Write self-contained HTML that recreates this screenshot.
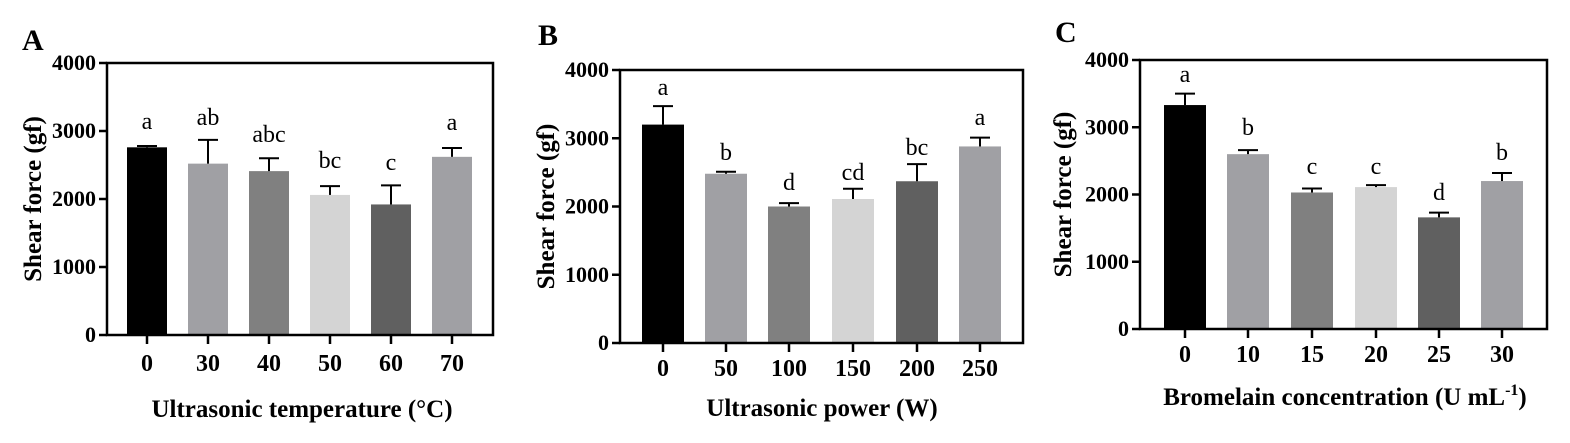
<!DOCTYPE html>
<html><head><meta charset="utf-8"><style>
html,body{margin:0;padding:0;background:#fff;}
svg{display:block;font-family:"Liberation Serif",serif;}
</style></head><body>
<svg id="s" width="1570" height="443" viewBox="0 0 1570 443" xmlns="http://www.w3.org/2000/svg"></svg>
<script>
const s=document.getElementById('s');let h='';
const cols=['#000','#a0a0a4','#808080','#d4d4d4','#606060','#a0a0a4'];
const P=[
 {L:107,T:63,B:335,R:493,cx:[147,208,269,330,391,452],w:40,v:[2760,2520,2410,2060,1920,2620],e:[2780,2870,2600,2190,2200,2750],lab:['a','ab','abc','bc','c','a'],ly:[129,125,142,168,170,130],xt:['0','30','40','50','60','70'],tly:371,xl:'Ultrasonic temperature (°C)',xlx:302,xly:417,let:'A',lx:22,lly:50,ylx:32},
 {L:620,T:70,B:343,R:1023,cx:[663,726,789,853,917,980],w:42,v:[3200,2480,2000,2110,2370,2880],e:[3470,2510,2050,2260,2620,3010],lab:['a','b','d','cd','bc','a'],ly:[95,160,190,180,155,125],xt:['0','50','100','150','200','250'],tly:376,xl:'Ultrasonic power (W)',xlx:822,xly:416,let:'B',lx:538,lly:45,ylx:545},
 {L:1140,T:60,B:329,R:1547,cx:[1185,1248,1312,1376,1439,1502],w:42,v:[3330,2600,2030,2110,1660,2200],e:[3500,2660,2090,2140,1730,2320],lab:['a','b','c','c','d','b'],ly:[82,135,174,174,200,160],xt:['0','10','15','20','25','30'],tly:362,xl:'Bromelain concentration (U mL<tspan dy="-10" font-size="16">-1</tspan><tspan dy="10">)</tspan>',xlx:1345,xly:405,let:'C',lx:1055,lly:42,ylx:1062}
];
for(const p of P){
 const sc=(p.B-p.T)/4000, y=v=>p.B-v*sc;
 h+=`<text x="${p.lx}" y="${p.lly}" font-size="30" font-weight="bold">${p.let}</text>`;
 p.cx.forEach((c,i)=>{
  h+=`<rect x="${c-p.w/2}" y="${y(p.v[i])}" width="${p.w}" height="${p.B-y(p.v[i])}" fill="${cols[i]}"/>`;
  h+=`<line x1="${c}" y1="${y(p.v[i])}" x2="${c}" y2="${y(p.e[i])}" stroke="#000" stroke-width="2"/>`;
  h+=`<line x1="${c-10}" y1="${y(p.e[i])}" x2="${c+10}" y2="${y(p.e[i])}" stroke="#000" stroke-width="2"/>`;
  h+=`<text x="${c}" y="${p.ly[i]}" font-size="24" text-anchor="middle">${p.lab[i]}</text>`;
  h+=`<line x1="${c}" y1="${p.B}" x2="${c}" y2="${p.B+9}" stroke="#000" stroke-width="2.5"/>`;
  h+=`<text x="${c}" y="${p.tly}" font-size="24" font-weight="bold" text-anchor="middle">${p.xt[i]}</text>`;
 });
 h+=`<rect x="${p.L}" y="${p.T}" width="${p.R-p.L}" height="${p.B-p.T}" fill="none" stroke="#000" stroke-width="2.5"/>`;
 for(let k=0;k<=4;k++){const yy=y(k*1000);
  h+=`<line x1="${p.L-8}" y1="${yy}" x2="${p.L}" y2="${yy}" stroke="#000" stroke-width="2.5"/>`;
  h+=`<text x="${p.L-11}" y="${yy+7}" font-size="22" font-weight="bold" text-anchor="end">${k*1000}</text>`;}
 const my=(p.T+p.B)/2;
 h+=`<text transform="translate(${p.ylx+9},${my}) rotate(-90)" font-size="25" font-weight="bold" text-anchor="middle">Shear force (gf)</text>`;
 h+=`<text x="${p.xlx}" y="${p.xly}" font-size="25" font-weight="bold" text-anchor="middle">${p.xl}</text>`;
}
s.innerHTML=h;
</script>
</body></html>
